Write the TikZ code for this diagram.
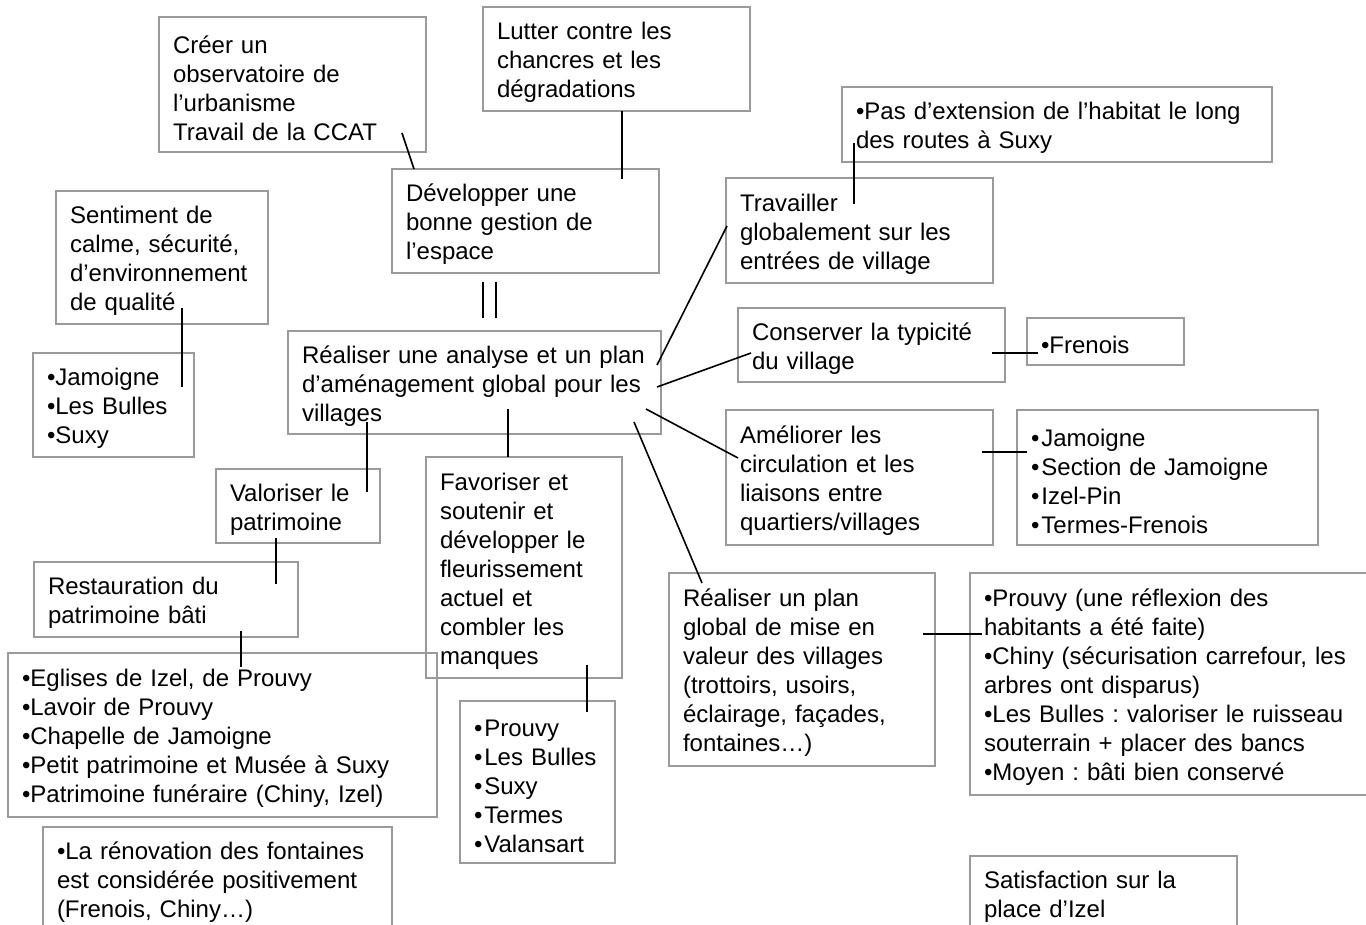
\documentclass[tikz,border=0pt]{standalone}
\usepackage{fontspec}
\setmainfont{Liberation Sans}
\usetikzlibrary{calc}
\definecolor{boxgray}{HTML}{9A9A9A}
\frenchspacing

\begin{document}
\begin{tikzpicture}[x=0.5pt, y=-0.5pt]
        \tikzstyle{box}=[draw=boxgray, line width=0.75pt, rectangle, anchor=north west, align=left,
            inner xsep=7pt, inner ysep=0pt, outer sep=0pt, font=\fontsize{12}{14.5}\selectfont,
            execute at begin node={\rule{0pt}{12.3pt}}]
        \tikzstyle{link}=[line width=0.8pt]
        \useasboundingbox (0,0) rectangle (1366,925);
        % centre et objectifs du haut
        \node[box, text width=172.5pt, minimum height=51.5pt] (ana) at (288,331) {Réaliser une analyse et un plan\\d’aménagement global pour les\\villages};
        \node[box, text width=119.5pt, minimum height=52pt] (dev) at (392,169) {Développer une\\bonne gestion de\\l’espace};
        \node[box, text width=119.5pt, minimum height=67.5pt] (cre) at (159,17) {Créer un\\observatoire de\\l’urbanisme\\Travail de la CCAT};
        \node[box, text width=119.5pt, minimum height=52pt] (lut) at (483,7) {Lutter contre les\\chancres et les\\dégradations};
        \node[box, text width=92pt, minimum height=66.5pt] (sen) at (56,191) {Sentiment de\\calme, sécurité,\\d’environnement\\de qualité};
        \node[box, text width=66.5pt, minimum height=52pt] (jam) at (33,353) {•Jamoigne\\•Les Bulles\\•Suxy};
        % branche de droite
        \node[box, text width=119.5pt, minimum height=52.5pt] (tra) at (726,178) {Travailler\\globalement sur les\\entrées de village};
        \node[box, text width=201pt, minimum height=37.5pt] (ext) at (842,87) {•Pas d’extension de l’habitat le long\\des routes à Suxy};
        \node[box, text width=119.5pt, minimum height=37pt] (con) at (738,308) {Conserver la typicité\\du village};
        \node[box, text width=64.5pt, minimum height=23.5pt] (fre) at (1027,318) {•Frenois};
        \node[box, text width=119.5pt, minimum height=67.5pt] (ame) at (726,410) {Améliorer les\\circulation et les\\liaisons entre\\quartiers/villages};
        \node[box, text width=136.5pt, minimum height=67.5pt] (vil) at (1017,410) {•\kern1pt Jamoigne\\•\kern1pt Section de Jamoigne\\•\kern1pt Izel-Pin\\•\kern1pt Termes-Frenois};
        \node[box, text width=119pt, minimum height=96.5pt] (pla) at (669,573) {Réaliser un plan\\global de mise en\\valeur des villages\\(trottoirs, usoirs,\\éclairage, façades,\\fontaines…)};
        \node[box, text width=196pt, minimum height=111pt] (pro) at (970,573) {•Prouvy (une réflexion des\\habitants a été faite)\\•Chiny (sécurisation carrefour, les\\arbres ont disparus)\\•Les Bulles : valoriser le ruisseau\\souterrain + placer des bancs\\•Moyen : bâti bien conservé};
        \node[box, text width=119.5pt, minimum height=37.5pt] (sat) at (970,856) {Satisfaction sur la\\place d’Izel};
        % branche du bas
        \node[box, text width=68pt, minimum height=37pt] (val) at (216,469) {Valoriser le\\patrimoine};
        \node[box, text width=84pt, minimum height=110.5pt] (fav) at (426,457) {Favoriser et\\soutenir et\\développer le\\fleurissement\\actuel et\\combler les\\manques};
        \node[box, text width=118pt, minimum height=37.5pt] (res) at (34,562) {Restauration du\\patrimoine bâti};
        \node[box, text width=200.5pt, minimum height=82pt] (egl) at (8,653) {•Eglises de Izel, de Prouvy\\•Lavoir de Prouvy\\•Chapelle de Jamoigne\\•Petit patrimoine et Musée à Suxy\\•Patrimoine funéraire (Chiny, Izel)};
        \node[box, text width=63.5pt, minimum height=81pt] (flr) at (460,701) {•\kern1pt Prouvy\\•\kern1pt Les Bulles\\•\kern1pt Suxy\\•\kern1pt Termes\\•\kern1pt Valansart};
        \node[box, text width=160.5pt, minimum height=52pt] (ren) at (43,827) {•La rénovation des fontaines\\est considérée positivement\\(Frenois, Chiny…)};
        % liens
        \draw[link] ($(cre.north west)+(243,116)$) -- ($(dev.north west)+(22,0)$);
        \draw[link] ($(lut.north west)+(139,104)$) -- ($(dev.north west)+(230,10)$);
        \foreach \d in {0,13}
            \draw[link] ($(dev.north west)+(91+\d,113)$) -- ($(ana.north west)+(195+\d,-13)$);
        \draw[link] ($(sen.north west)+(126,117)$) -- ($(jam.north west)+(149,34)$);
        \draw[link] ($(ana.north west)+(369,34)$) -- ($(tra.north west)+(1,48)$);
        \draw[link] ($(ana.north west)+(369,56)$) -- ($(con.north west)+(13,45)$);
        \draw[link] ($(ana.north west)+(358,78)$) -- ($(ame.north west)+(12,48)$);
        \draw[link] ($(ana.north west)+(346,91)$) -- ($(pla.north west)+(33,10)$);
        \draw[link] ($(ana.north west)+(79,91)$) -- ($(val.north west)+(151,23)$);
        \draw[link] ($(ana.north west)+(220,78)$) -- ($(fav.north west)+(82,0)$);
        \draw[link] ($(ext.north west)+(12,56)$) -- ($(tra.north west)+(128,26)$);
        \draw[link] ($(con.north west)+(254,45)$) -- ($(fre.north west)+(11,35)$);
        \draw[link] ($(ame.north west)+(256,42)$) -- ($(vil.north west)+(10,42)$);
        \draw[link] ($(val.north west)+(60,69)$) -- ($(res.north west)+(242,22)$);
        \draw[link] ($(res.north west)+(207,69)$) -- ($(egl.north west)+(233,14)$);
        \draw[link] ($(fav.north west)+(161,208)$) -- ($(flr.north west)+(127,11)$);
        \draw[link] ($(pla.north west)+(254,61)$) -- ($(pro.north west)+(12,61)$);
\end{tikzpicture}
\end{document}
